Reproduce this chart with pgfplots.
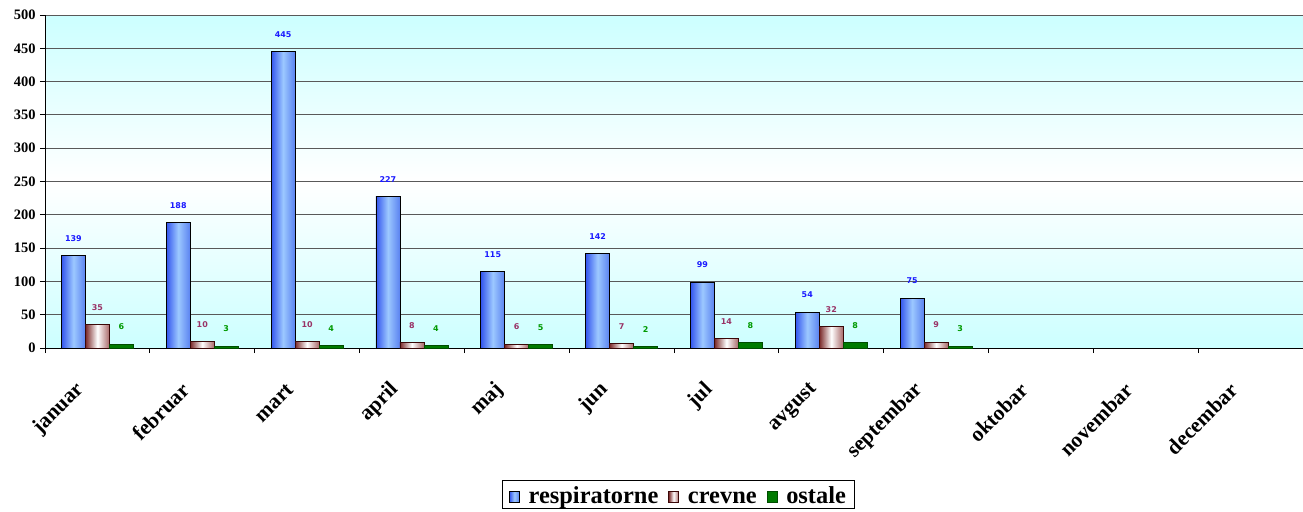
\documentclass[border=0pt]{standalone}
\usepackage{fontspec}
\setmainfont{Liberation Serif}
\newfontfamily\lblfont{DejaVu Sans}
\usepackage{pgfplots}
\usepackage{pgfplotstable}
\pgfplotsset{compat=1.18}
\usetikzlibrary{calc}
\definecolor{bgc}{HTML}{CCFFFF}
\definecolor{blueD}{HTML}{3355EE}
\definecolor{blueL}{HTML}{9CC8FF}
\definecolor{blueR}{HTML}{5A82F0}
\definecolor{brD}{HTML}{7A2828}
\definecolor{brR}{HTML}{A86868}
\definecolor{brO}{HTML}{3A0808}
\definecolor{grn}{HTML}{007A00}
\definecolor{lblBlue}{HTML}{1A1AFF}
\definecolor{lblRed}{HTML}{993366}
\definecolor{lblGreen}{HTML}{009900}
\pgfplotstableread{
x r c o
0 139 35 6
1 188 10 3
2 445 10 4
3 227 8 4
4 115 6 5
5 142 7 2
6 99 14 8
7 54 32 8
8 75 9 3
}\data
\pgfplotsset{
  resp/.style={draw=black, line width=0.8bp, left color=blueD, right color=blueR, middle color=blueL},
  crev/.style={draw=brO, line width=0.8bp, left color=brD, right color=brR, middle color=white},
  ost/.style={draw=black!70!green, line width=0.8bp, fill=grn},
}
\begin{document}
\begin{tikzpicture}
\begin{axis}[
  name=ax, at={(0,0)}, anchor=south west,
  scale only axis, width=1258bp, height=333bp,
  xmin=-0.5, xmax=11.5, ymin=0, ymax=500,
  ytick={0,50,...,500},
  ymajorgrids, grid style={black!65, line width=0.9bp},
  axis x line*=bottom, axis y line*=left,
  axis line style={black, line width=1bp},
  tick align=outside, major tick length=5bp,
  tick style={black, line width=0.9bp},
  yticklabel style={font=\bfseries\fontsize{14.5}{16}\selectfont, xshift=-1bp},
  /pgf/number format/assume math mode=true,
  xtick={-0.5,0.5,...,11.5}, xticklabels={},
  extra x ticks={0,1,...,11},
  extra x tick labels={januar,februar,mart,april,maj,jun,jul,avgust,septembar,oktobar,novembar,decembar},
  extra x tick style={major tick length=0pt, grid=none,
    tick label style={font=\bfseries\fontsize{21.5}{24}\selectfont, rotate=45, anchor=east, xshift=-36bp, yshift=-15.5bp}},
  axis background/.style={top color=bgc, bottom color=bgc, middle color=white},
  ybar=0pt, bar width=24bp,
  nodes near coords,
  every node near coord/.append style={font=\lblfont\bfseries\fontsize{8}{9}\selectfont, anchor=center, yshift=17bp},
  legend style={at={(rel axis cs:0.5,0)}, anchor=north, xshift=4bp, yshift=-132bp,
    draw=black, line width=0.8bp, legend columns=3,
    font=\bfseries\fontsize{24.5}{27}\selectfont, inner xsep=7bp, inner ysep=3bp,
    nodes={inner sep=1bp},
    /tikz/every even column/.append style={column sep=9bp},
    /tikz/every odd column/.append style={column sep=8bp}},
  legend image code/.code={\draw[#1, line width=0.6bp] (0bp,-8bp) rectangle (10bp,3bp);},
]
\addlegendimage{resp}
\addlegendimage{crev}
\addlegendimage{ost}
\pgfplotsinvokeforeach{0,...,8}{
\addplot[resp, bar shift=-24bp, forget plot,
  every node near coord/.append style={text=lblBlue}]
  table[x=x, y=r, restrict x to domain=#1:#1] {\data};
\addplot[crev, bar shift=0bp, forget plot,
  every node near coord/.append style={text=lblRed}]
  table[x=x, y=c, restrict x to domain=#1:#1] {\data};
\addplot[ost, bar shift=24bp, forget plot,
  every node near coord/.append style={text=lblGreen}]
  table[x=x, y=o, restrict x to domain=#1:#1] {\data};
}
\legend{\strut respiratorne,\strut crevne,\strut ostale}
\end{axis}
\pgfresetboundingbox
\path[use as bounding box] ($(ax.south west)+(-45bp,-164bp)$) rectangle ($(ax.north east)+(0bp,15bp)$);
\end{tikzpicture}
\end{document}
